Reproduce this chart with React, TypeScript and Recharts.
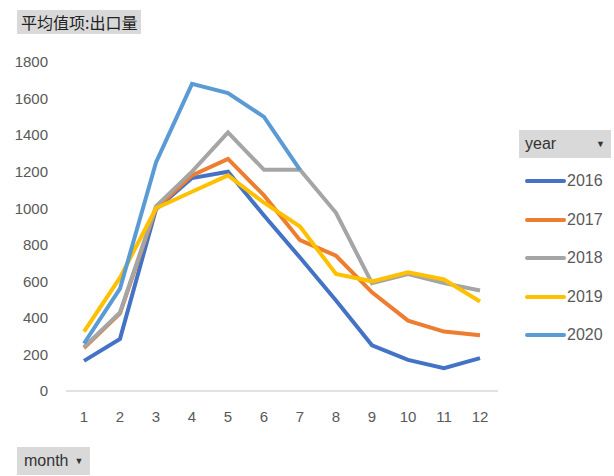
import React from 'react';
import { LineChart, Line, XAxis, YAxis } from 'recharts';

const months = ['1', '2', '3', '4', '5', '6', '7', '8', '9', '10', '11', '12'];
const years = ['2016', '2017', '2018', '2019', '2020'];
const colors = ['#4472C4', '#ED7D31', '#A5A5A5', '#FFC000', '#5B9BD5'];

const y2016 = [165, 285, 995, 1165, 1200, 960, 730, 495, 250, 170, 125, 180];
const y2017 = [235, 425, 1000, 1180, 1270, 1070, 825, 740, 540, 385, 325, 305];
const y2018 = [240, 430, 1010, 1200, 1415, 1210, 1210, 975, 590, 640, 590, 550];
const y2019 = [325, 620, 1000, 1090, 1180, 1030, 900, 640, 600, 650, 610, 490];
const y2020 = [260, 560, 1250, 1680, 1630, 1500, 1210, null, null, null, null, null];

const yTicks = [0, 200, 400, 600, 800, 1000, 1200, 1400, 1600, 1800];

const series = [y2016, y2017, y2018, y2019, y2020];

const data = months.map((m, i) => {
  const row: { [key: string]: string | number | null } = { month: m };
  years.forEach((y, j) => {
    row[y] = series[j][i];
  });
  return row;
});

const font = '"Liberation Sans", Arial, sans-serif';

const Arrow = () => (
  <span style={{ fontSize: 9, marginLeft: 6, position: 'relative', top: -2 }}>▼</span>
);

export default function App() {
  return (
    <div style={{ position: 'absolute', left: 0, top: 0, width: 614, height: 476, background: '#fff', fontFamily: font }}>
      <LineChart
        width={614}
        height={476}
        data={data}
        margin={{ top: 62, right: 116, left: 16, bottom: 55 }}
      >
        <XAxis
          dataKey="month"
          height={30}
          padding={{ left: 18, right: 18 }}
          axisLine={{ stroke: '#d9d9d9', strokeWidth: 1.5 }}
          tickLine={false}
          tickSize={0}
          tickMargin={20}
          tick={{ fill: '#595959', fontSize: 15, fontFamily: font }}
          interval={0}
        />
        <YAxis
          width={50}
          domain={[0, 1800]}
          ticks={yTicks}
          axisLine={false}
          tickLine={false}
          tickSize={0}
          tickMargin={18}
          tick={{ fill: '#595959', fontSize: 15, fontFamily: font }}
        />
        {years.map((y, j) => (
          <Line
            key={y}
            type="linear"
            dataKey={y}
            stroke={colors[j]}
            strokeWidth={4}
            dot={false}
            activeDot={false}
            isAnimationActive={false}
          />
        ))}
      </LineChart>

      <div style={{ position: 'absolute', left: 17, top: 10, height: 24, padding: '0 4px', background: '#d9d9d9', fontSize: 16, lineHeight: '24px', color: '#222', fontFamily: '"Noto Sans CJK SC", sans-serif' }}>
        平均值项:出口量
      </div>

      <div style={{ position: 'absolute', left: 519, top: 130, width: 92, height: 28, background: '#d9d9d9', fontSize: 16, lineHeight: '28px', color: '#333', boxSizing: 'border-box', padding: '0 6px', display: 'flex', justifyContent: 'space-between' }}>
        <span>year</span>
        <span style={{ fontSize: 9 }}>▼</span>
      </div>
      {years.map((y, j) => (
        <div key={y} style={{ position: 'absolute', left: 525, top: 170 + j * 38.5, height: 22, display: 'flex', alignItems: 'center' }}>
          <div style={{ width: 41, height: 4, background: colors[j], borderRadius: 2 }} />
          <span style={{ fontSize: 16, color: '#595959', marginLeft: 1 }}>{y}</span>
        </div>
      ))}

      <div style={{ position: 'absolute', left: 17, top: 447, height: 28, padding: '0 7px', background: '#d9d9d9', fontSize: 16, lineHeight: '28px', color: '#333' }}>
        month<Arrow />
      </div>
    </div>
  );
}
